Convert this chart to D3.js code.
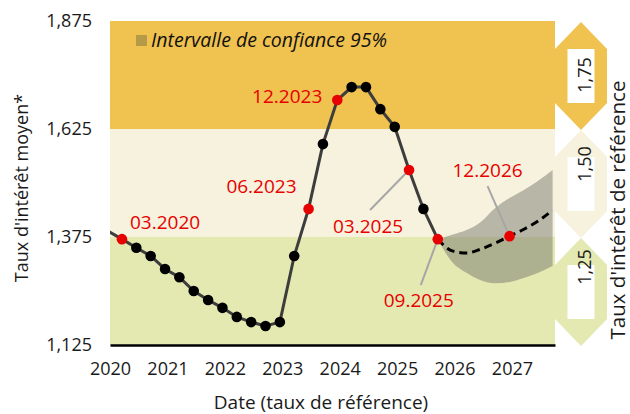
<!DOCTYPE html>
<html>
<head>
<meta charset="utf-8">
<script src="https://cdn.jsdelivr.net/npm/d3@7"></script>
<style>
	body { margin: 0; background: #fff; }
	svg { display: block; font-family: "Open Sans", sans-serif; }
</style>
</head>
<body>
<div class="chart"></div>
<script>

// axis ticks
var years = [2020, 2021, 2022, 2023, 2024, 2025, 2026, 2027];
var yTicks = [1.125, 1.375, 1.625, 1.875];

// reference rate bands (bottom, top, label)
var bandLow = [1.125, 1.375, 1.625];
var bandHigh = [1.375, 1.625, 1.875];
var bandLabels = ['1,25', '1,50', '1,75'];

// observed average rate, quarterly
var histDates = ['12.2019', '03.2020', '06.2020', '09.2020', '12.2020', '03.2021', '06.2021', '09.2021',
	'12.2021', '03.2022', '06.2022', '09.2022', '12.2022', '03.2023', '06.2023', '09.2023', '12.2023',
	'03.2024', '06.2024', '09.2024', '12.2024', '03.2025', '06.2025', '09.2025'];
var histValues = [1.389, 1.370, 1.350, 1.331, 1.301, 1.282, 1.250, 1.229,
	1.211, 1.190, 1.178, 1.169, 1.178, 1.331, 1.440, 1.590, 1.692,
	1.722, 1.722, 1.671, 1.630, 1.530, 1.440, 1.370];

// forecast with 95% interval
var fcDates = ['09.2025', '12.2025', '03.2026', '06.2026', '09.2026', '12.2026', '03.2027', '06.2027', '09.2027'];
var fcValues = [1.370, 1.343, 1.338, 1.347, 1.361, 1.377, 1.393, 1.412, 1.437];
var fcLower = [1.370, 1.317, 1.292, 1.275, 1.268, 1.271, 1.280, 1.292, 1.308];
var fcUpper = [1.370, 1.380, 1.391, 1.410, 1.442, 1.465, 1.484, 1.505, 1.530];

// highlighted dates
var markDates = ['03.2020', '06.2023', '12.2023', '03.2025', '09.2025', '12.2026'];

var W = 630, H = 414;
var mLeft = 110, mRight = 555, mTop = 21, mBottom = 345;

var toYear = function(s) {
	var p = s.split('.');
	return +p[1] + (+p[0] - 0.5) / 12;
};

var fmt = function(v) { return d3.format('.3f')(v).replace('.', ','); };

var x = d3.scaleLinear().domain([2020, 2027.75]).range([mLeft, mRight]);
var y = d3.scaleLinear().domain([1.125, 1.875]).range([mBottom, mTop]);

var colors = ['#e4e9b2', '#f7f2dd', '#f0c24f'];

var svg = d3.select('.chart').append('svg')
	.attr('width', W)
	.attr('height', H);

svg.append('clipPath').attr('id', 'plot')
	.append('rect')
	.attr('x', mLeft).attr('y', mTop)
	.attr('width', mRight - mLeft).attr('height', mBottom - mTop);

// background bands
svg.selectAll('rect.band')
	.data(bandLow)
	.enter()
		.append('rect')
		.attr('class', 'band')
		.attr('x', mLeft)
		.attr('width', mRight - mLeft)
		.attr('y', function(d, i) { return y(bandHigh[i]); })
		.attr('height', function(d, i) { return y(d) - y(bandHigh[i]); })
		.attr('fill', function(d, i) { return colors[i]; });

// double arrows on the right: hexagon with a white window for the label
var cx = 581, hw = 26, sw = 13.5, hh = 27;
var arrowShift = [-25, -20, -1];

bandLow.forEach(function(d, i) {
	var t = y(bandHigh[i]) + 1, b = y(d) + 1;
	var pts = [[cx, t], [cx + hw, t + hh], [cx + hw, b - hh],
		[cx, b], [cx - hw, b - hh], [cx - hw, t + hh]];
	svg.append('path')
		.attr('d', 'M' + pts.join('L') + 'Z')
		.attr('fill', colors[i]);
	svg.append('rect')
		.attr('x', cx - sw).attr('y', t + hh)
		.attr('width', sw * 2).attr('height', b - t - hh * 2)
		.attr('fill', '#fff');
	var my = (t + b) / 2 + arrowShift[i];
	svg.append('text')
		.attr('transform', 'translate(' + (cx + 10) + ',' + my + ') rotate(-90)')
		.attr('text-anchor', 'middle')
		.attr('font-size', 18)
		.attr('fill', '#1a1a1a')
		.text(bandLabels[i]);
});

var g = svg.append('g').attr('clip-path', 'url(#plot)');

// confidence interval
var area = d3.area()
	.x(function(d, i) { return x(toYear(fcDates[i])); })
	.y0(function(d, i) { return y(fcLower[i]); })
	.y1(function(d, i) { return y(fcUpper[i]); })
	.curve(d3.curveMonotoneX);

g.append('path')
	.datum(fcDates)
	.attr('d', area)
	.attr('fill', '#6b6c64')
	.attr('fill-opacity', 0.45);

// leader lines
var notes = [
	{ date: '03.2020', dx: 8, dy: -10, anchor: 'start' },
	{ date: '06.2023', dx: -12, dy: -16, anchor: 'end' },
	{ date: '12.2023', dx: -15, dy: 3, anchor: 'end' },
	{ date: '03.2025', dx: -41, dy: 63, anchor: 'middle', lx: -39, ly: 40 },
	{ date: '09.2025', dx: -19, dy: 68, anchor: 'middle', lx: -17, ly: 46 },
	{ date: '12.2026', dx: -22, dy: -59, anchor: 'middle', lx: -22, ly: -50 }
];

var lookup = {};
histDates.forEach(function(d, i) { lookup[d] = histValues[i]; });
fcDates.forEach(function(d, i) { lookup[d] = fcValues[i]; });

notes.forEach(function(n) {
	if (n.lx === undefined) return;
	var px = x(toYear(n.date)), py = y(lookup[n.date]);
	svg.append('line')
		.attr('x1', px).attr('y1', py)
		.attr('x2', px + n.lx).attr('y2', py + n.ly)
		.attr('stroke', '#a6a6a6')
		.attr('stroke-width', 2);
});

// forecast line
var fcLine = d3.line()
	.x(function(d) { return x(toYear(d)); })
	.y(function(d, i) { return y(fcValues[i]); })
	.curve(d3.curveMonotoneX);

g.append('path')
	.datum(fcDates)
	.attr('d', fcLine)
	.attr('fill', 'none')
	.attr('stroke', '#000')
	.attr('stroke-width', 3)
	.attr('stroke-dasharray', '8,5');

// history line
var histLine = d3.line()
	.x(function(d) { return x(toYear(d)); })
	.y(function(d, i) { return y(histValues[i]); });

g.append('path')
	.datum(histDates)
	.attr('d', histLine)
	.attr('fill', 'none')
	.attr('stroke', '#3d3d3d')
	.attr('stroke-width', 3);

var dots = histDates.filter(function(d) { return toYear(d) >= 2020; }).concat(['12.2026']);

svg.selectAll('circle.pt')
	.data(dots)
	.enter()
		.append('circle')
		.attr('class', 'pt')
		.attr('cx', function(d) { return x(toYear(d)); })
		.attr('cy', function(d) { return y(lookup[d]); })
		.attr('r', 5.3)
		.attr('fill', function(d) { return markDates.indexOf(d) > -1 ? '#e60000' : '#000'; });

// red date labels
notes.forEach(function(n) {
	var px = x(toYear(n.date)), py = y(lookup[n.date]);
	svg.append('text')
		.attr('x', px + n.dx)
		.attr('y', py + n.dy)
		.attr('text-anchor', n.anchor)
		.attr('font-size', 19)
		.attr('fill', '#e60000')
		.text(n.date);
});

// legend
svg.append('rect')
	.attr('x', 136).attr('y', 35)
	.attr('width', 11).attr('height', 11)
	.attr('fill', '#b59a48');

svg.append('text')
	.attr('x', 151).attr('y', 47)
	.attr('font-size', 19.5)
	.attr('font-style', 'italic')
	.attr('fill', '#111')
	.text('Intervalle de confiance 95%');

// axes
var xAxis = d3.axisBottom(x).tickValues(years).tickSize(0).tickPadding(17).tickFormat(d3.format('d'));
var gx = svg.append('g')
	.attr('transform', 'translate(0,' + mBottom + ')')
	.call(xAxis);
gx.select('.domain').attr('stroke', '#000').attr('stroke-width', 2.5);
gx.selectAll('text').attr('font-size', 18).attr('fill', '#1a1a1a').attr('font-family', 'Open Sans');

var yAxis = d3.axisLeft(y).tickValues(yTicks).tickSize(0).tickPadding(18).tickFormat(fmt);
var gy = svg.append('g')
	.attr('transform', 'translate(' + mLeft + ',0)')
	.call(yAxis);
gy.select('.domain').remove();
gy.selectAll('text').attr('font-size', 18).attr('fill', '#1a1a1a').attr('font-family', 'Open Sans');

// axis titles
svg.append('text')
	.attr('x', 321).attr('y', 409)
	.attr('text-anchor', 'middle')
	.attr('font-size', 19)
	.attr('fill', '#1a1a1a')
	.text('Date (taux de référence)');

svg.append('text')
	.attr('transform', 'translate(28,188) rotate(-90)')
	.attr('text-anchor', 'middle')
	.attr('font-size', 18)
	.attr('fill', '#1a1a1a')
	.text('Taux d\'intérêt moyen*');

svg.append('text')
	.attr('transform', 'translate(625,210) rotate(-90)')
	.attr('text-anchor', 'middle')
	.attr('font-size', 20.5)
	.attr('fill', '#1a1a1a')
	.text('Taux d\'intérêt de référence');

</script>
</body>
</html>
